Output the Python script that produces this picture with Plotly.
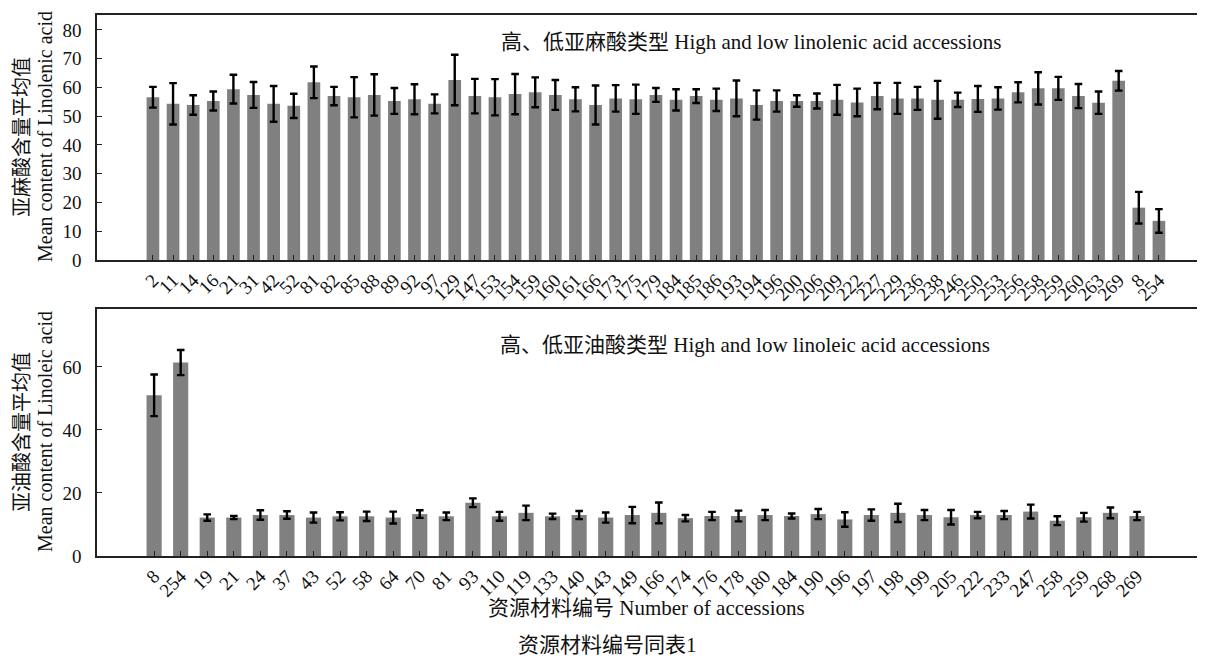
import plotly.graph_objects as go

# ---------------- data ----------------
top_labels = ["2", "11", "14", "16", "21", "31", "42", "52", "81", "82", "85", "88", "89", "92", "97",
              "129", "147", "153", "154", "159", "160", "161", "166", "173", "175", "179", "184", "185",
              "186", "193", "194", "196", "200", "206", "209", "222", "227", "229", "236", "238", "246",
              "250", "253", "256", "258", "259", "260", "263", "269", "8", "254"]
top_means = [56.6, 54.3, 53.9, 55.3, 59.4, 57.4, 54.3, 53.6, 61.8, 57.0, 56.6, 57.4, 55.3, 55.9, 54.3,
             62.6, 57.0, 56.6, 57.7, 58.3, 57.4, 55.9, 53.9, 56.2, 55.9, 57.4, 55.7, 57.0,
             55.7, 56.2, 53.9, 55.3, 55.3, 55.3, 55.7, 54.8, 57.0, 56.2, 56.2, 55.7, 55.7,
             56.0, 56.2, 58.3, 59.7, 59.7, 57.0, 54.7, 62.3, 18.2, 13.6]
top_sd = [3.6, 7.2, 3.4, 3.3, 5.0, 4.5, 6.2, 4.2, 5.5, 3.2, 7.0, 7.2, 4.5, 5.2, 3.3,
          8.8, 6.0, 6.3, 7.0, 5.2, 5.2, 4.2, 6.8, 4.6, 5.1, 2.4, 3.7, 2.4,
          3.9, 6.2, 5.1, 3.7, 2.0, 2.6, 5.2, 4.8, 4.6, 5.4, 4.0, 6.6, 2.5,
          4.5, 3.9, 3.5, 5.6, 4.0, 4.2, 3.9, 3.4, 5.5, 4.1]

bot_labels = ["8", "254", "19", "21", "24", "37", "43", "52", "58", "64", "70", "81", "93", "110",
              "119", "133", "140", "143", "149", "166", "174", "176", "178", "180", "184", "190",
              "196", "197", "198", "199", "205", "222", "233", "247", "258", "259", "268", "269"]
bot_means = [51.0, 61.4, 12.2, 12.2, 13.0, 13.0, 12.2, 12.6, 12.6, 12.2, 13.3, 12.6, 16.9, 12.6,
             13.7, 12.6, 13.0, 12.2, 13.0, 13.7, 12.0, 12.7, 12.7, 13.0, 12.7, 13.3,
             11.6, 13.0, 13.7, 13.0, 12.3, 13.0, 13.0, 14.1, 11.2, 12.3, 13.7, 12.7]
bot_sd = [6.6, 4.0, 1.0, 0.5, 1.5, 1.2, 1.6, 1.3, 1.5, 1.9, 1.2, 1.2, 1.4, 1.4,
          2.3, 0.85, 1.3, 1.6, 2.6, 3.3, 1.0, 1.3, 1.7, 1.6, 0.8, 1.6,
          2.3, 1.8, 2.9, 1.6, 2.3, 1.0, 1.3, 2.2, 1.4, 1.4, 1.7, 1.3]

top_title = "高、低亚麻酸类型 High and low linolenic acid accessions"
bot_title = "高、低亚油酸类型 High and low linoleic acid accessions"
top_ytitle = ["亚麻酸含量平均值", "Mean content of Linolenic acid"]
bot_ytitle = ["亚油酸含量平均值", "Mean content of Linoleic acid"]
x_title = "资源材料编号 Number of accessions"
caption = "资源材料编号同表1"

# ---------------- figure ----------------
FONT = "Liberation Serif, 'Noto Sans CJK SC', serif"
BAR = "#808080"

top_x = list(range(len(top_labels)))
bot_x = list(range(len(bot_labels)))

fig = go.Figure()
fig.add_trace(go.Bar(
    x=top_x, y=top_means, width=0.63, marker=dict(color=BAR, line=dict(width=0)),
    error_y=dict(type="data", array=top_sd, color="black", thickness=2.4, width=3.8),
    xaxis="x", yaxis="y", showlegend=False))
fig.add_trace(go.Bar(
    x=bot_x, y=bot_means, width=0.57, marker=dict(color=BAR, line=dict(width=0)),
    error_y=dict(type="data", array=bot_sd, color="black", thickness=2.4, width=3.8),
    xaxis="x2", yaxis="y2", showlegend=False))

axis_common = dict(showline=True, linecolor="#222", linewidth=1.5, showgrid=False,
                   zeroline=False, ticks="inside", ticklen=5, tickcolor="#222",
                   automargin=False,
                   tickfont=dict(family=FONT, size=19, color="#111"))

top_dom = [(556 - 260) / 541, 1.0]
bot_dom = [0.0, (556 - 309) / 541]

# the page body has an 8px default margin: figure is placed at (8, 8)
fig.update_layout(
    width=1197, height=650,
    margin=dict(l=89, r=0, t=7, b=102),
    paper_bgcolor="white", plot_bgcolor="white",
    bargap=0.3,
    font=dict(family=FONT, color="#111"),
    xaxis=dict(**axis_common, domain=[0, 1], anchor="y", mirror=True,
               range=[-2.78, 52.29], tickvals=top_x, ticktext=top_labels, tickangle=-45),
    yaxis=dict(**axis_common, domain=top_dom, anchor="x", range=[0, 85.2],
               tickvals=[0, 10, 20, 30, 40, 50, 60, 70, 80], ticklabelstandoff=10),
    xaxis2=dict(**axis_common, domain=[0, 1], anchor="y2", mirror=True,
                range=[-2.15, 39.56], tickvals=bot_x, ticktext=bot_labels, tickangle=-45),
    yaxis2=dict(**axis_common, domain=bot_dom, anchor="x2", range=[0, 78.4],
                tickvals=[0, 20, 40, 60], ticklabelstandoff=10),
)

ann = []
def add(text, x, y, size=21, angle=0, xshift=0, xanchor="center"):
    ann.append(dict(text=text, x=x, y=y, xref="paper", yref="paper", showarrow=False,
                    xanchor=xanchor, yanchor="middle", textangle=angle, xshift=xshift,
                    font=dict(family=FONT, size=size, color="#111")))

add(top_title, (751 - 97) / 1108, (556 - 42) / 541)
add(bot_title, (745 - 97) / 1108, (556 - 345) / 541)
add(top_ytitle[0], 0, (556 - 137) / 541, size=20, angle=-90, xshift=22 - 97)
add(top_ytitle[1], 0, (556 - 137) / 541, size=20, angle=-90, xshift=45 - 97)
add(bot_ytitle[0], 0, (556 - 432) / 541, size=20, angle=-90, xshift=22 - 97)
add(bot_ytitle[1], 0, (556 - 432) / 541, size=20, angle=-90, xshift=45 - 97)
add(x_title, (646 - 97) / 1108, (556 - 608) / 541, size=21)
add(caption, (607 - 97) / 1108, (556 - 645) / 541, size=21)
fig.update_layout(annotations=ann)

fig.write_html("out.html")
